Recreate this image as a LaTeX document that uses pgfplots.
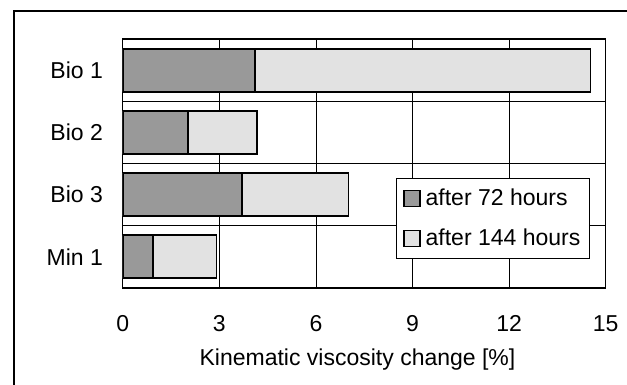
\documentclass[border=0pt]{standalone}
\usepackage{pgfplots}
\pgfplotsset{compat=1.18}
\usepackage{fontspec}
\setmainfont{Liberation Sans}
\definecolor{darkbar}{HTML}{999999}
\definecolor{lightbar}{HTML}{E2E2E2}
\begin{document}
\fontsize{23bp}{27bp}\selectfont
\begin{tikzpicture}
\path[use as bounding box] (0,0) rectangle (627bp,385bp);
\draw[line width=2.2bp] (14bp,0) -- (14bp,374bp) -- (627bp,374bp);
\begin{axis}[
  at={(122.7bp,97bp)}, anchor=south west,
  scale only axis, width=483bp, height=249bp,
  xbar stacked, bar width=43bp,
  xmin=0, xmax=15, ymin=-0.5, ymax=3.5,
  xtick={0,3,6,9,12,15},
  ytick={0,1,2,3},
  yticklabels={Min 1,Bio 3,Bio 2,Bio 1},
  major tick length=0pt,
  /pgf/number format/assume math mode=true,
  xmajorgrids,
  extra y ticks={0.5,1.5,2.5},
  extra y tick labels={},
  extra y tick style={grid=major, major tick length=0pt},
  major grid style={black, line width=0.8bp},
  axis line style={black, line width=1.3bp},
  xticklabel style={yshift=-20bp},
  yticklabel style={xshift=-12bp},
  xlabel={Kinematic viscosity change [\%]},
  xlabel style={at={(axis description cs:0.5,0)}, anchor=base, yshift=-77.5bp, xshift=-6.7bp},
  legend cell align=left,
  legend style={at={(axis description cs:0.566,0.4406)}, anchor=north west,
    draw=black, line width=0.8bp, inner xsep=7bp, inner ysep=8bp,
    row sep=16bp, column sep=3bp,
    font=\fontsize{23bp}{27bp}\selectfont},
  legend image code/.code={\draw[#1, line width=1.2bp] (0bp,-8bp) rectangle (16bp,8bp);},
]
\addplot[fill=darkbar, draw=black, line width=1.8bp] coordinates {
  (0.95,0) (3.71,1) (2.04,2) (4.11,3)};
\addplot[fill=lightbar, draw=black, line width=1.8bp] coordinates {
  (1.96,0) (3.30,1) (2.12,2) (10.42,3)};
\legend{after 72 hours, after 144 hours}
\end{axis}
\end{tikzpicture}
\end{document}
